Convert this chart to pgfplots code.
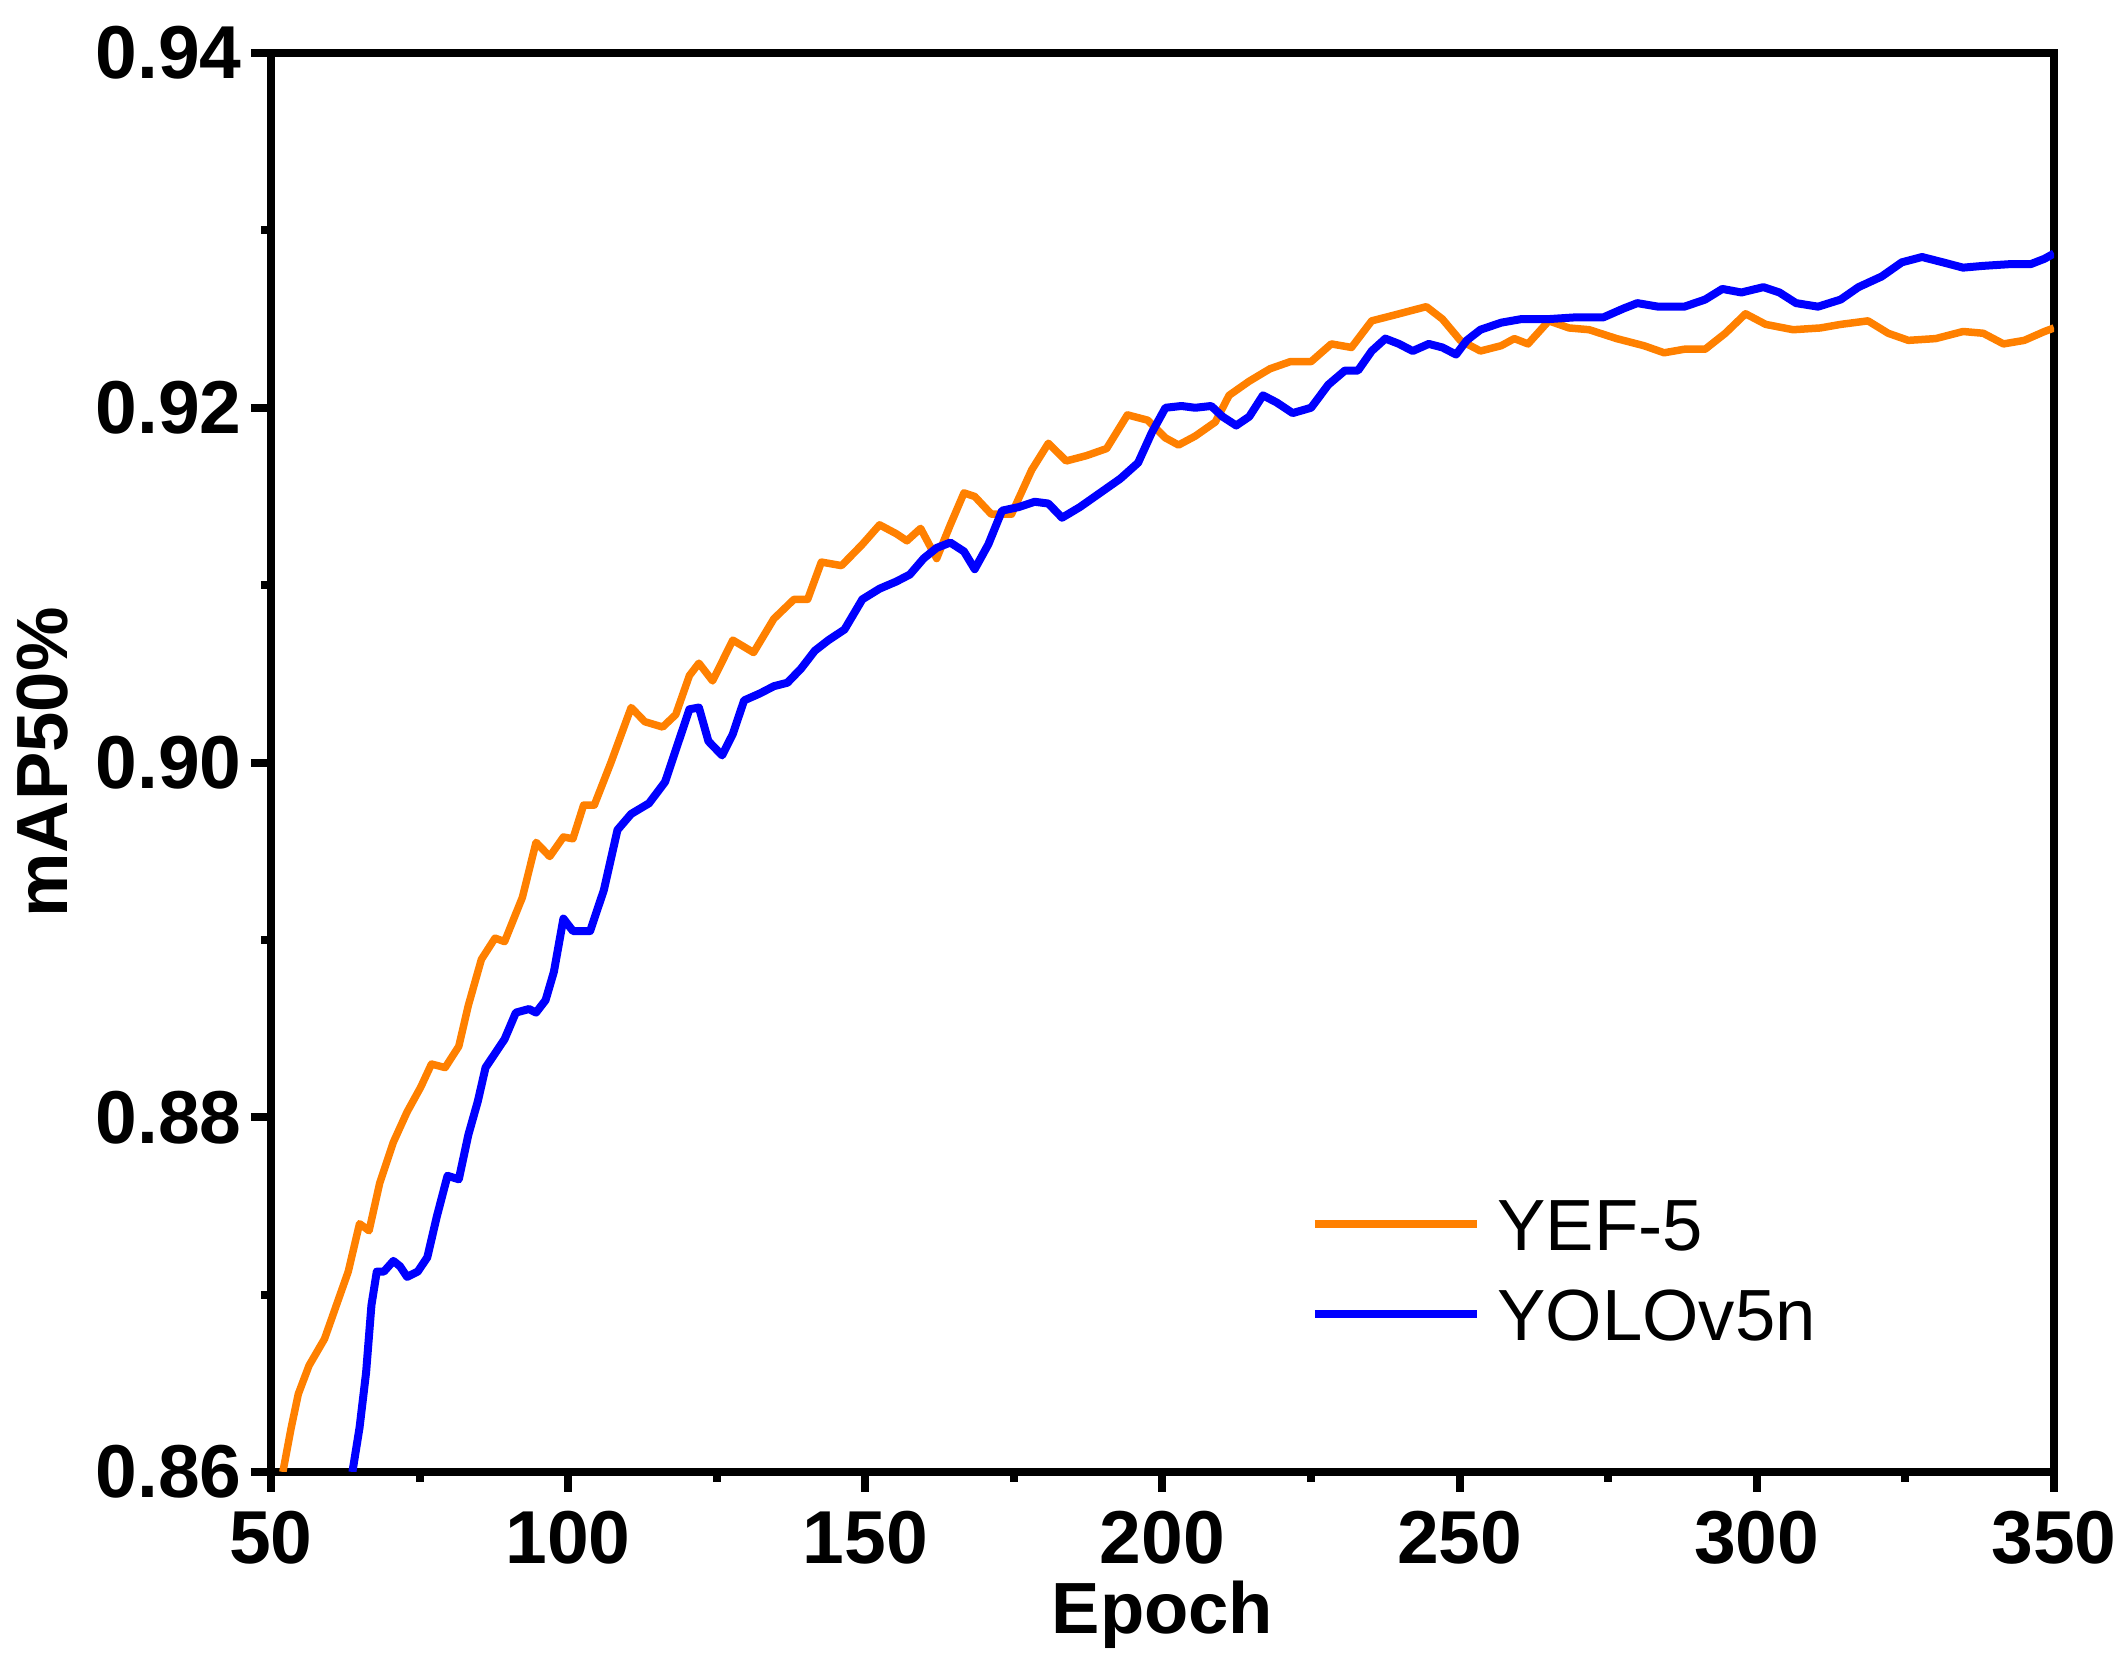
\documentclass[border=0pt]{standalone}
\usepackage{fontspec}
\setmainfont{Liberation Sans}
\usepackage{pgfplots}
\pgfplotsset{compat=1.18}
\definecolor{yorange}{RGB}{255,128,0}
\definecolor{yblue}{RGB}{0,0,255}
\begin{document}
\begin{tikzpicture}
\begin{axis}[
  scale only axis,
  width=356.6pt, height=283.8pt,
  xmin=50, xmax=350, ymin=0.86, ymax=0.94,
  xtick={50,100,...,350},
  ytick={0.86,0.88,0.90,0.92,0.94},
  minor xtick={75,125,...,325},
  minor ytick={0.87,0.89,0.91,0.93},
  yticklabels={0.86,0.88,0.90,0.92,0.94},
  xtick pos=bottom, ytick pos=left,
  tick align=outside,
  major tick length=4pt, minor tick length=2pt,
  every tick/.style={line width=1.6pt, black},
  axis line style={line width=1.6pt},
  /pgf/number format/assume math mode=true,
  ticklabel style={font=\bfseries\fontsize{15}{18}\selectfont, inner sep=0pt},
  xticklabel style={anchor=north, yshift=-3.6pt},
  yticklabel style={anchor=east, xshift=-1.7pt},
  xlabel={Epoch}, ylabel={mAP50\%},
  label style={font=\bfseries\fontsize{14.5}{17}\selectfont, inner sep=0pt},
  xlabel style={at={(axis description cs:0.5,-0.1135)}, anchor=base},
  ylabel style={at={(axis description cs:-0.1139,0.5)}, anchor=base},
  clip=true,
  legend cell align=left,
  legend image code/.code={\draw[#1] (0pt,0pt) -- (32.4pt,0pt);},
  legend style={at={(rel axis cs:0.5827,0.143)}, anchor=west, draw=none, fill=none,
    inner sep=0pt, row sep=7.6pt, column sep=3.3pt,
    nodes={inner sep=0pt, text height=10.4pt, text depth=0pt},
    font=\fontsize{14.5}{17}\selectfont},
  legend columns=1,
]
\addplot[yorange, line width=1.5pt, line join=round] coordinates {
(52,0.8600) (53.4,0.8625) (54.6,0.8644) (56.4,0.8660) (59.0,0.8675) (61.0,0.8694)
(63.0,0.8713) (64.9,0.8740) (66.5,0.8736) (68.3,0.8763) (70.6,0.8786) (72.9,0.8803)
(75.2,0.8817) (77.0,0.8830) (79.3,0.8828) (81.6,0.8840) (83.2,0.8863) (85.4,0.8889)
(87.7,0.8901) (89.3,0.8899) (92.3,0.8924) (94.6,0.8955) (96.9,0.8947) (99.2,0.8958)
(100.8,0.8957) (102.6,0.8976) (104.4,0.8976) (107.2,0.9000) (110.6,0.9031) (112.9,0.9023)
(115.9,0.9020) (118.1,0.9027) (120.4,0.9049) (122.0,0.9056) (124.3,0.9046) (127.7,0.9069)
(131.2,0.9062) (134.6,0.9081) (138.0,0.9092) (140.3,0.9092) (142.6,0.9113) (146.0,0.9111)
(149.5,0.9123) (152.4,0.9134) (155.2,0.9129) (157.0,0.9125) (159.3,0.9132) (162.0,0.9115)
(164.3,0.9134) (166.6,0.9152) (168.4,0.9150) (171.2,0.9140) (174.6,0.9140) (178.0,0.9165)
(180.8,0.9180) (183.8,0.9170) (187.2,0.9173) (190.6,0.9177) (194.1,0.9196) (197.5,0.9193)
(200.5,0.9183) (202.7,0.9179) (205.5,0.9184) (208.9,0.9192) (211.2,0.9207) (214.6,0.9215)
(218.1,0.9222) (221.5,0.9226) (225.0,0.9226) (228.4,0.9236) (231.8,0.9234) (235.2,0.9249)
(238.7,0.9252) (242.1,0.9255) (244.4,0.9257) (247.1,0.9250) (250.1,0.9238) (253.5,0.9232)
(257.0,0.9235) (259.2,0.9239) (261.5,0.9236) (265.0,0.9249) (268.4,0.9245) (271.8,0.9244)
(276.4,0.9239) (281.0,0.9235) (284.4,0.9231) (287.8,0.9233) (291.3,0.9233) (294.7,0.9242)
(298.1,0.9253) (301.5,0.9247) (306.1,0.9244) (310.7,0.9245) (314.1,0.9247) (318.7,0.9249)
(322.1,0.9242) (325.5,0.9238) (330.1,0.9239) (334.7,0.9243) (338.1,0.9242) (341.5,0.9236)
(345.0,0.9238) (348.4,0.9243) (350.0,0.9245)
};
\addlegendentry{YEF-5}
\addplot[yblue, line width=1.6pt, line join=round] coordinates {
(63.7,0.8600) (64.9,0.8625) (66.0,0.8656) (66.9,0.8694) (67.8,0.8713) (69.0,0.8713)
(70.6,0.8719) (71.7,0.8716) (72.9,0.8710) (74.7,0.8713) (76.3,0.8721) (77.9,0.8744)
(79.7,0.8767) (81.6,0.8765) (83.2,0.8790) (84.8,0.8809) (86.1,0.8828) (87.7,0.8836)
(89.3,0.8844) (91.2,0.8859) (93.4,0.8861) (94.6,0.8859) (96.2,0.8866) (97.6,0.8882)
(99.2,0.8912) (100.8,0.8905) (103.7,0.8905) (106.0,0.8928) (108.3,0.8962) (110.6,0.8971)
(113.6,0.8977) (116.3,0.8989) (118.6,0.9012) (120.4,0.9030) (122.0,0.9031) (123.6,0.9012)
(125.9,0.9004) (127.7,0.9016) (129.6,0.9035) (132.3,0.9039) (134.6,0.9043) (136.9,0.9045)
(139.2,0.9053) (141.5,0.9063) (143.8,0.9069) (146.5,0.9075) (149.5,0.9092) (152.4,0.9098)
(155.2,0.9102) (157.5,0.9106) (159.8,0.9115) (162.0,0.9121) (164.3,0.9124) (166.6,0.9119)
(168.4,0.9109) (170.7,0.9123) (173.0,0.9142) (175.8,0.9144) (178.5,0.9147) (180.8,0.9146)
(183.1,0.9138) (186.1,0.9144) (189.5,0.9152) (192.9,0.9160) (195.9,0.9169) (198.2,0.9186)
(200.5,0.9200) (203.2,0.9201) (205.5,0.9200) (208.2,0.9201) (210.1,0.9195) (212.4,0.9190)
(214.6,0.9195) (216.9,0.9207) (219.2,0.9203) (221.9,0.9197) (225.0,0.9200) (227.9,0.9213)
(230.7,0.9221) (232.9,0.9221) (235.2,0.9232) (237.5,0.9239) (239.8,0.9236) (242.1,0.9232)
(244.8,0.9236) (247.1,0.9234) (249.4,0.9230) (251.2,0.9238) (253.5,0.9244) (257.0,0.9248)
(260.4,0.9250) (265.0,0.9250) (269.6,0.9251) (274.2,0.9251) (277.6,0.9256) (279.9,0.9259)
(283.4,0.9257) (287.8,0.9257) (291.3,0.9261) (294.2,0.9267) (297.4,0.9265) (301.1,0.9268)
(303.8,0.9265) (306.6,0.9259) (310.3,0.9257) (314.1,0.9261) (317.1,0.9268) (321.0,0.9274)
(324.4,0.9282) (327.8,0.9285) (331.3,0.9282) (334.7,0.9279) (338.1,0.9280) (342.7,0.9281)
(346.1,0.9281) (348.4,0.9284) (350.0,0.9287)
};
\addlegendentry{YOLOv5n}
\end{axis}
\path (-54.2pt,-39.6pt) rectangle (371.4pt,294.4pt);
\end{tikzpicture}
\end{document}
